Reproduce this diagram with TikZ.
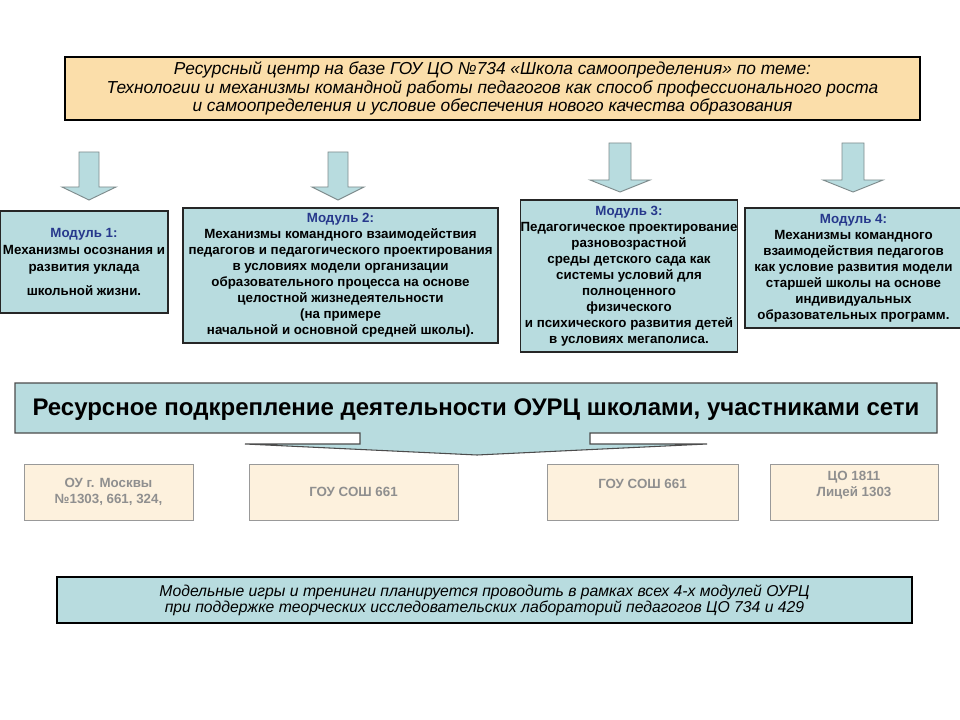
\documentclass[tikz,border=0pt]{standalone}
\usepackage{fontspec}
\setmainfont{Liberation Sans}
\definecolor{lblue}{HTML}{B8DCDF}
\definecolor{peach}{HTML}{FBDEAA}
\definecolor{lpeach}{HTML}{FDF1DD}
\definecolor{navy}{HTML}{26388C}
\definecolor{greytext}{HTML}{8F8F8F}
\definecolor{arrowline}{HTML}{7F8C8D}
% cx, top, wing y, tip y, half stem, half wing
\newcommand\blockarr[6]{%
  \path[arrowshape] ({#1-#5},#2) -- ({#1+#5},#2) -- ({#1+#5},#3) -- ({#1+#6},#3)
     -- (#1,#4) -- ({#1-#6},#3) -- ({#1-#5},#3) -- cycle;}
\begin{document}
\begin{tikzpicture}[x=0.75pt,y=-0.75pt,
  rect/.style n args={4}{minimum width={(#3-#1)*0.75pt}, minimum height={(#4-#2)*0.75pt},
     at={({(#1+#3)/2},{(#2+#4)/2})}, anchor=center},
  banner/.style={draw=black, line width=0.8pt, fill=peach, inner sep=0pt, align=center,
     font=\itshape\fontsize{13}{13.9}\selectfont},
  modbox/.style={draw=black!85, line width=0.8pt, fill=lblue, inner sep=0pt, align=center,
     font=\bfseries\fontsize{10}{12}\selectfont},
  netbox/.style={draw=black!40, line width=0.6pt, fill=lpeach, inner sep=0pt, align=center,
     text=greytext, font=\bfseries\fontsize{10}{12}\selectfont},
  notebox/.style={draw=black, line width=0.8pt, fill=lblue, inner sep=0pt, align=center,
     font=\itshape\fontsize{11.8}{12}\selectfont},
  arrowshape/.style={fill=lblue, draw=arrowline, line width=0.7pt},
  callout/.style={fill=lblue, draw=black!70, line width=0.8pt},
  calltext/.style={font=\bfseries\fontsize{18}{20}\selectfont, inner sep=0pt},
  title/.style={text=navy}]
\useasboundingbox[fill=white] (0,0) rectangle (960,720);

\node[banner, rect={65}{57}{920}{120}] (top) {Ресурсный центр на базе ГОУ ЦО №734 «Школа самоопределения» по теме:\\Технологии и механизмы командной работы педагогов как способ профессионального роста\\и самоопределения и условие обеспечения нового качества образования};

\blockarr{89}{152}{187}{200}{10}{27}
\blockarr{338}{152}{187}{200}{10}{26}
\blockarr{620}{143}{180}{192}{11}{30}
\blockarr{853}{143}{180}{192}{11}{30}

\node[modbox, rect={0}{211}{168}{313}] (m1) {\textcolor{navy}{Модуль 1:}\\[1pt]Механизмы осознания и\\[1pt]развития уклада\\[6pt]школьной жизни.};
\node[modbox, rect={183}{208}{498}{343}] (m2) {\textcolor{navy}{Модуль 2:}\\Механизмы командного взаимодействия\\педагогов и педагогического проектирования\\в условиях модели организации\\образовательного процесса на основе\\целостной жизнедеятельности\\(на примере\\начальной и основной средней школы).};
\node[modbox, rect={521}{200}{737}{352}] (m3) {\textcolor{navy}{Модуль 3:}\\Педагогическое проектирование\\разновозрастной\\среды детского сада как\\системы условий для\\полноценного\\физического\\и психического развития детей\\в условиях мегаполиса.};
\node[modbox, rect={745}{208}{962}{328}] (m4) {\textcolor{navy}{Модуль 4:}\\Механизмы командного\\взаимодействия педагогов\\как условие развития модели\\старшей школы на основе\\индивидуальных\\образовательных программ.};

\path[callout] (15,383) -- (937,383) -- (937,433) -- (590,433) -- (590,444) -- (707,444)
  -- (477,455) -- (245,444) -- (360,444) -- (360,433) -- (15,433) -- cycle;
\node[calltext] (res) at (476,410) {Ресурсное подкрепление деятельности ОУРЦ школами, участниками сети};

\node[netbox, rect={24}{464}{193}{520}] (s1) {ОУ г. Москвы\\№1303, 661, 324,};
\node[netbox, rect={249}{464}{458}{520}] (s2) {ГОУ СОШ 661};
\node[netbox, rect={547}{464}{738}{520}] (s3) {ГОУ СОШ 661\\\mbox{}};
\node[netbox, rect={770}{464}{938}{520}] (s4) {ЦО 1811\\Лицей 1303\\\mbox{}};

\node[notebox, rect={57}{577}{912}{623}] (note) {Модельные игры и тренинги планируется проводить в рамках всех 4-х модулей ОУРЦ\\при поддержке теорческих исследовательских лабораторий педагогов ЦО 734 и 429};
\end{tikzpicture}
\end{document}
